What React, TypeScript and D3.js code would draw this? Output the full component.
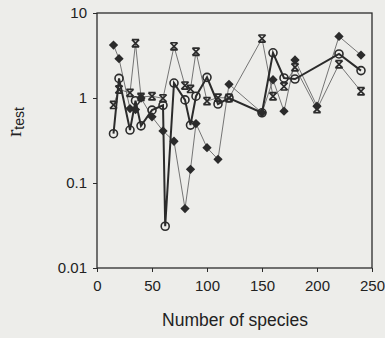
import React, { useEffect, useRef } from 'react';
import * as d3 from 'd3';

// number of species on x, r_test on log y
const speciesDiamond = [15, 20, 30, 35, 40, 50, 60, 70, 80, 85, 90, 100, 110, 120, 150, 160, 170, 180, 200, 220, 240];
const rDiamond = [4.2, 2.9, 0.75, 0.73, 1.0, 0.6, 0.41, 0.31, 0.05, 0.145, 0.5, 0.26, 0.19, 1.45, 0.67, 1.64, 0.7, 2.8, 0.8, 5.3, 3.2];

const speciesCircle = [15, 20, 30, 35, 40, 50, 60, 62, 70, 80, 85, 90, 100, 110, 120, 150, 160, 170, 180, 220, 240];
const rCircle = [0.38, 1.7, 0.42, 0.93, 0.47, 0.72, 0.82, 0.031, 1.5, 0.95, 0.48, 1.05, 1.75, 0.85, 1.0, 0.67, 3.4, 1.72, 1.67, 3.3, 2.1];

const speciesCross = [15, 20, 30, 35, 40, 50, 60, 70, 80, 85, 90, 100, 110, 120, 150, 160, 170, 180, 200, 220, 240];
const rCross = [0.83, 1.26, 1.15, 4.4, 1.03, 1.05, 0.99, 4.05, 1.4, 1.28, 3.5, 0.92, 1.01, 1.0, 5.0, 1.05, 1.37, 2.3, 0.74, 2.5, 1.2];

const xTicks = [0, 50, 100, 150, 200, 250];
const yTicks = [0.01, 0.1, 1, 10];

const W = 385;
const H = 338;
const BG = '#ededea';
const INK = '#2b2b2b';

const App = () => {
  const svgRef = useRef<SVGSVGElement>(null);

  useEffect(() => {
    const svg = d3.select(svgRef.current);
    svg.selectAll('*').remove();

    const x = d3.scaleLinear().domain([0, 250]).range([97, 372]);
    const y = d3.scaleLog().domain([0.01, 10]).range([268, 13]);

    svg.append('rect').attr('width', W).attr('height', H).attr('fill', BG);

    const toPts = (xs: number[], ys: number[]) => xs.map((v, i) => ({ x: v, y: ys[i] }));
    const diamonds = toPts(speciesDiamond, rDiamond);
    const circles = toPts(speciesCircle, rCircle);
    const crosses = toPts(speciesCross, rCross);

    const line = d3.line<{ x: number; y: number }>()
      .x(d => x(d.x))
      .y(d => y(d.y));

    // thin lines first, thick circle line on top
    svg.append('path').datum(diamonds)
      .attr('fill', 'none').attr('stroke', '#666').attr('stroke-width', 0.9)
      .attr('d', line);
    svg.append('path').datum(crosses)
      .attr('fill', 'none').attr('stroke', '#666').attr('stroke-width', 0.9)
      .attr('d', line);
    svg.append('path').datum(circles)
      .attr('fill', 'none').attr('stroke', INK).attr('stroke-width', 2)
      .attr('d', line);

    // markers
    const s = 3.6;
    svg.append('g').selectAll('path')
      .data(crosses)
      .join('path')
      .attr('transform', d => `translate(${x(d.x)},${y(d.y)})`)
      .attr('d', `M${-s},${-s}L${s},${s}M${s},${-s}L${-s},${s}M${-s},${-s}L${s},${-s}M${-s},${s}L${s},${s}`)
      .attr('fill', 'none')
      .attr('stroke', INK)
      .attr('stroke-width', 1.7);

    svg.append('g').selectAll('path')
      .data(diamonds)
      .join('path')
      .attr('transform', d => `translate(${x(d.x)},${y(d.y)})`)
      .attr('d', d3.symbol(d3.symbolDiamond2, 55)())
      .attr('fill', INK);

    svg.append('g').selectAll('circle')
      .data(circles)
      .join('circle')
      .attr('cx', d => x(d.x))
      .attr('cy', d => y(d.y))
      .attr('r', 4)
      .attr('fill', 'none')
      .attr('stroke', INK)
      .attr('stroke-width', 1.6);

    // frame
    svg.append('rect')
      .attr('x', 97).attr('y', 13)
      .attr('width', 275).attr('height', 255)
      .attr('fill', 'none')
      .attr('stroke', INK)
      .attr('stroke-width', 1.3);

    const font = 'Liberation Sans, Arial, sans-serif';

    const gx = svg.append('g')
      .attr('transform', 'translate(0,268)')
      .call(d3.axisBottom(x).tickValues(xTicks).tickSize(4).tickSizeOuter(0).tickPadding(8));
    gx.select('.domain').remove();
    gx.selectAll('line').attr('stroke', INK);
    gx.selectAll('text').attr('font-family', font).attr('font-size', 15).attr('fill', '#222');

    const gy = svg.append('g')
      .attr('transform', 'translate(97,0)')
      .call(d3.axisLeft(y).tickValues(yTicks).tickFormat(d => String(d)).tickSize(4).tickSizeOuter(0).tickPadding(6));
    gy.select('.domain').remove();
    gy.selectAll('line').attr('stroke', INK);
    gy.selectAll('text').attr('font-family', font).attr('font-size', 15).attr('fill', '#222');

    svg.append('text')
      .attr('x', 235).attr('y', 326)
      .attr('text-anchor', 'middle')
      .attr('font-family', font)
      .attr('font-size', 17.5)
      .attr('fill', '#222')
      .text('Number of species');

    const title = svg.append('text')
      .attr('transform', 'translate(21,137) rotate(-90)')
      .attr('fill', '#222');
    title.append('tspan')
      .attr('font-family', 'Liberation Serif, Times New Roman, serif')
      .attr('font-size', 22)
      .text('r');
    title.append('tspan')
      .attr('font-family', font)
      .attr('font-size', 14)
      .attr('dy', 3)
      .text('test');
  }, []);

  return (
    <svg ref={svgRef} width={W} height={H} style={{ position: 'absolute', left: 0, top: 0 }} />
  );
};

export default App;
